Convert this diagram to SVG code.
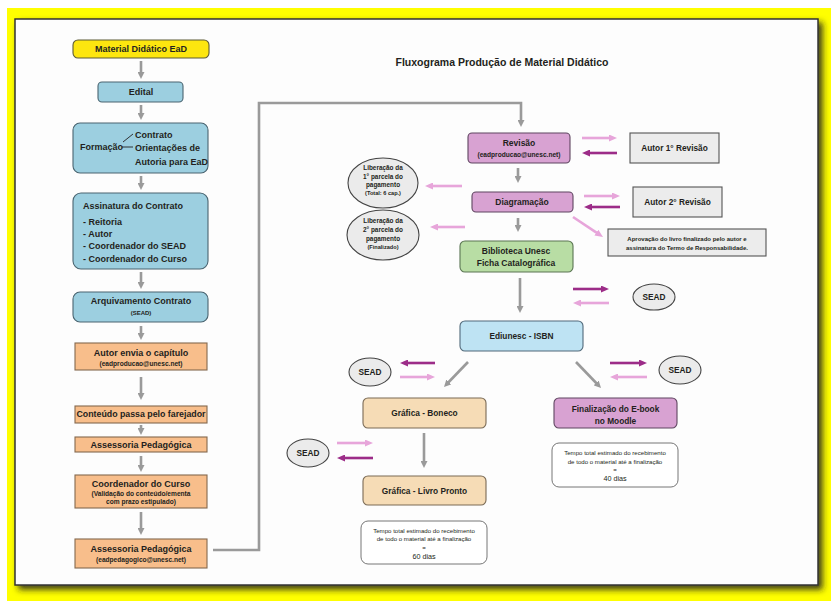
<svg xmlns="http://www.w3.org/2000/svg" width="831" height="601" viewBox="0 0 831 601">
<style>
text{font-family:"Liberation Sans",Arial,sans-serif;font-weight:bold;fill:#231f20;text-anchor:middle}
.h{font-size:9px}
.m{font-size:8.3px}
.s{font-size:6.6px}
.xs{font-size:6px}
.e{font-size:6.4px}
.r{font-size:6.1px;font-weight:normal}
.st{stroke-width:1.1}
.yel{fill:#fde60f;stroke:#5c5a36}
.blu{fill:#9ccfe0;stroke:#4a6470}
.org{fill:#f8be8b;stroke:#84694f}
.pnk{fill:#d8a2d2;stroke:#5f4560}
.grn{fill:#b8dda4;stroke:#5a7552}
.lbl{fill:#bee3f3;stroke:#51697a}
.tan{fill:#f6dcb6;stroke:#7a6a55}
.gry{fill:#ececec;stroke:#555}
.ell{fill:#ebebeb;stroke:#444}
.wht{fill:#fff;stroke:#666}
.ga{stroke:#9a9a9a;stroke-width:2.6;fill:none;marker-end:url(#ag)}
.lp{stroke:#e7a5da;stroke-width:2.6;fill:none;marker-end:url(#ap)}
.dp{stroke:#9c2c88;stroke-width:2.6;fill:none;marker-end:url(#ad)}
</style>
<defs>
<filter id="sh" x="-3%" y="-3%" width="108%" height="110%"><feDropShadow dx="4" dy="4" stdDeviation="3" flood-color="#222" flood-opacity="0.85"/></filter>
<marker id="ag" markerUnits="userSpaceOnUse" markerWidth="7" markerHeight="7" viewBox="0 0 7 7" refX="1.5" refY="3.5" orient="auto"><path d="M0,0 L7,3.5 L0,7 z" fill="#9a9a9a"/></marker>
<marker id="ap" markerUnits="userSpaceOnUse" markerWidth="8" markerHeight="7" viewBox="0 0 8 7" refX="1.5" refY="3.5" orient="auto"><path d="M0,0 L8,3.5 L0,7 z" fill="#e7a5da"/></marker>
<marker id="ad" markerUnits="userSpaceOnUse" markerWidth="8" markerHeight="7" viewBox="0 0 8 7" refX="1.5" refY="3.5" orient="auto"><path d="M0,0 L8,3.5 L0,7 z" fill="#9c2c88"/></marker>
</defs>
<rect x="0" y="0" width="831" height="601" fill="#ffffff"/>
<rect x="7" y="8" width="824" height="593" fill="#ffff00"/>
<rect x="15" y="19" width="803" height="566" fill="#fdfdfd" stroke="#333" stroke-width="1.5" filter="url(#sh)"/>

<text x="502" y="66" style="font-size:10.5px">Fluxograma Produção de Material Didático</text>

<g id="connectors">
<line class="ga" x1="141" y1="61" x2="141" y2="73.5"/>
<line class="ga" x1="141" y1="105" x2="141" y2="114.5"/>
<line class="ga" x1="141" y1="176" x2="141" y2="184.5"/>
<line class="ga" x1="141" y1="272" x2="141" y2="283.5"/>
<line class="ga" x1="141" y1="326" x2="141" y2="334.5"/>
<line class="ga" x1="141" y1="377" x2="141" y2="394.5"/>
<line class="ga" x1="141" y1="425" x2="141" y2="429.5"/>
<line class="ga" x1="141" y1="456" x2="141" y2="466.5"/>
<line class="ga" x1="141" y1="512" x2="141" y2="529.5"/>
<polyline class="ga" points="213,550 259,550 259,103 521,103 521,121.5"/>
<line class="ga" x1="518" y1="168" x2="518" y2="177.5"/>
<line class="ga" x1="518" y1="218" x2="518" y2="226.5"/>
<line class="ga" x1="520" y1="278" x2="520" y2="307.5"/>
<line class="ga" x1="468" y1="362" x2="447.8" y2="383"/>
<line class="ga" x1="576" y1="362" x2="597.2" y2="384"/>
<line class="ga" x1="424" y1="433" x2="424" y2="462.5"/>
<line class="lp" x1="582" y1="138" x2="610.5" y2="138"/>
<line class="dp" x1="617" y1="153" x2="588.5" y2="153"/>
<line class="lp" x1="584" y1="196" x2="613.5" y2="196"/>
<line class="dp" x1="620" y1="207" x2="590.5" y2="207"/>
<line class="lp" x1="573" y1="217" x2="597.6" y2="233.4"/>
<line class="lp" x1="462" y1="186" x2="431.5" y2="186"/>
<line class="lp" x1="465" y1="227" x2="436.5" y2="227"/>
<line class="dp" x1="573" y1="289" x2="602.5" y2="289"/>
<line class="lp" x1="609" y1="303" x2="579.5" y2="303"/>
<line class="dp" x1="435" y1="363" x2="406.5" y2="363"/>
<line class="lp" x1="400" y1="377" x2="428.5" y2="377"/>
<line class="dp" x1="610" y1="363" x2="640.5" y2="363"/>
<line class="lp" x1="647" y1="377" x2="616.5" y2="377"/>
<line class="lp" x1="337" y1="443" x2="366.5" y2="443"/>
<line class="dp" x1="373" y1="458" x2="343.5" y2="458"/>
</g>

<g id="material">
<rect class="yel st" x="73" y="40" width="136" height="18" rx="5"/>
<text class="h" x="141" y="52">Material Didático EaD</text>
</g>
<g id="edital">
<rect class="blu st" x="98" y="82" width="85" height="20" rx="4"/>
<text class="h" x="141" y="95">Edital</text>
</g>
<g id="formacao">
<rect class="blu st" x="73" y="123" width="135" height="50" rx="7"/>
<text class="h" x="80" y="150" style="text-anchor:start">Formação</text>
<line x1="123" y1="142" x2="133" y2="134" stroke="#231f20" stroke-width="0.9"/>
<line x1="122" y1="147" x2="133" y2="147" stroke="#231f20" stroke-width="0.9"/>
<text class="h" x="135" y="138" style="text-anchor:start">Contrato</text>
<text class="h" x="135" y="151" style="text-anchor:start">Orientações de</text>
<text class="h" x="135" y="165" style="text-anchor:start">Autoria para EaD</text>
</g>
<g id="assinatura">
<rect class="blu st" x="73" y="193" width="135" height="76" rx="8"/>
<text class="h" x="83" y="209" style="text-anchor:start">Assinatura do Contrato</text>
<text class="h" x="83" y="225" style="text-anchor:start">- Reitoria</text>
<text class="h" x="83" y="237" style="text-anchor:start">- Autor</text>
<text class="h" x="83" y="249" style="text-anchor:start">- Coordenador do SEAD</text>
<text class="h" x="83" y="262" style="text-anchor:start">- Coordenador do Curso</text>
</g>
<g id="arquivamento">
<rect class="blu st" x="73" y="292" width="135" height="30" rx="7"/>
<text class="h" x="141" y="304">Arquivamento Contrato</text>
<text class="xs" x="141" y="315">(SEAD)</text>
</g>
<g id="autor-envia">
<rect class="org st" x="75" y="343" width="132" height="27"/>
<text class="h" x="141" y="356">Autor envia o capítulo</text>
<text class="s" x="141" y="366">(eadproducao@unesc.net)</text>
</g>
<g id="conteudo">
<rect class="org st" x="75" y="406" width="132" height="17"/>
<text class="h" x="141" y="417" style="font-size:8.8px">Conteúdo passa pelo farejador</text>
</g>
<g id="assessoria1">
<rect class="org st" x="75" y="437" width="132" height="15"/>
<text class="h" x="141" y="447.5">Assessoria Pedagógica</text>
</g>
<g id="coordenador">
<rect class="org st" x="75" y="475" width="132" height="33"/>
<text class="h" x="141" y="487">Coordenador do Curso</text>
<text class="s" x="141" y="496">(Validação do conteúdo/ementa</text>
<text class="s" x="141" y="503.5">com prazo estipulado)</text>
</g>
<g id="assessoria2">
<rect class="org st" x="75" y="539" width="132" height="29"/>
<text class="h" x="141" y="552">Assessoria Pedagógica</text>
<text class="s" x="141" y="562">(eadpedagogico@unesc.net)</text>
</g>

<g id="revisao">
<rect class="pnk st" x="468" y="133" width="102" height="30" rx="4"/>
<text class="h" x="519" y="146" style="font-size:8.5px">Revisão</text>
<text class="s" x="519" y="157">(eadproducao@unesc.net)</text>
</g>
<g id="diagramacao">
<rect class="pnk st" x="472" y="192" width="101" height="20" rx="4"/>
<text class="h" x="522" y="205" style="font-size:8.5px">Diagramação</text>
</g>
<g id="biblioteca">
<rect class="grn st" x="460" y="241" width="113" height="31" rx="5"/>
<text class="h" x="516" y="254" style="font-size:8.5px">Biblioteca Unesc</text>
<text class="h" x="516" y="265.5" style="font-size:8.5px">Ficha Catalográfica</text>
</g>
<g id="liberacao1">
<ellipse class="ell st" cx="383" cy="183" rx="35" ry="25"/>
<text class="e" x="383" y="170">Liberação da</text>
<text class="e" x="383" y="178.5">1° parcela do</text>
<text class="e" x="383" y="187">pagamento</text>
<text class="xs" x="383" y="195" style="font-size:5.6px">(Total: 6 cap.)</text>
</g>
<g id="liberacao2">
<ellipse class="ell st" cx="383" cy="235" rx="36" ry="25"/>
<text class="e" x="383" y="222.5">Liberação da</text>
<text class="e" x="383" y="231.5">2° parcela do</text>
<text class="e" x="383" y="240.5">pagamento</text>
<text class="xs" x="383" y="249" style="font-size:5.6px">(Finalizado)</text>
</g>
<g id="autor1">
<rect class="gry st" x="630" y="133" width="89" height="30"/>
<text class="m" x="674.5" y="151">Autor 1° Revisão</text>
</g>
<g id="autor2">
<rect class="gry st" x="633" y="187" width="89" height="30"/>
<text class="m" x="677.5" y="205">Autor 2° Revisão</text>
</g>
<g id="aprovacao">
<rect class="gry st" x="608" y="229" width="158" height="27"/>
<text class="xs" x="687" y="240.5">Aprovação do livro finalizado pelo autor e</text>
<text class="xs" x="687" y="250">assinatura do Termo de Responsabilidade.</text>
</g>
<g id="sead1">
<ellipse class="ell st" cx="654" cy="297" rx="21" ry="13"/>
<text class="m" x="654" y="300">SEAD</text>
</g>
<g id="ediunesc">
<rect class="lbl st" x="460" y="321" width="123" height="30" rx="5"/>
<text class="m" x="521.5" y="339">Ediunesc - ISBN</text>
</g>
<g id="sead2">
<ellipse class="ell st" cx="370" cy="372" rx="21" ry="14"/>
<text class="m" x="370" y="375">SEAD</text>
</g>
<g id="sead3">
<ellipse class="ell st" cx="680" cy="370" rx="21" ry="14"/>
<text class="m" x="680" y="373">SEAD</text>
</g>
<g id="boneco">
<rect class="tan st" x="363" y="398" width="123" height="30" rx="5"/>
<text class="m" x="424.5" y="416">Gráfica - Boneco</text>
</g>
<g id="ebook">
<rect class="pnk st" x="554" y="398" width="123" height="30" rx="5"/>
<text class="m" x="615.5" y="412">Finalização do E-book</text>
<text class="m" x="615.5" y="424">no Moodle</text>
</g>
<g id="sead4">
<ellipse class="ell st" cx="308" cy="453" rx="21" ry="14"/>
<text class="m" x="308" y="456">SEAD</text>
</g>
<g id="livro">
<rect class="tan st" x="363" y="476" width="123" height="29" rx="5"/>
<text class="m" x="424.5" y="494">Gráfica - Livro Pronto</text>
</g>
<g id="tempo60">
<rect class="wht" x="361" y="521" width="126" height="43" rx="7" stroke-width="0.9"/>
<text class="r" x="424" y="533">Tempo total estimado do recebimento</text>
<text class="r" x="424" y="541">de todo o material até a finalização</text>
<text class="r" x="424" y="549.5">=</text>
<text x="424" y="559" style="font-size:7.2px;font-weight:normal">60 dias</text>
</g>
<g id="tempo40">
<rect class="wht" x="552" y="443" width="126" height="44" rx="7" stroke-width="0.9"/>
<text class="r" x="615" y="455">Tempo total estimado do recebimento</text>
<text class="r" x="615" y="463.5">de todo o material até a finalização</text>
<text class="r" x="615" y="471.5">=</text>
<text x="615" y="481" style="font-size:7.2px;font-weight:normal">40 dias</text>
</g>
</svg>
